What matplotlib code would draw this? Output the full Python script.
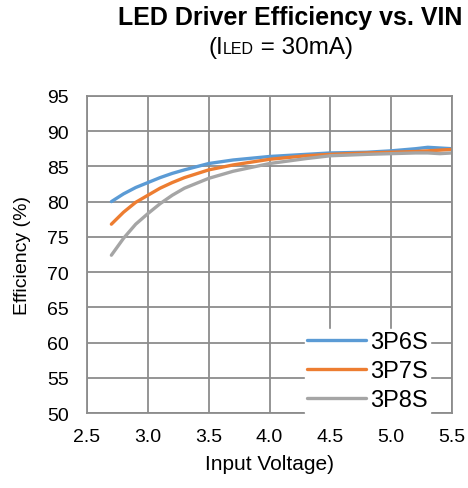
import matplotlib
matplotlib.use("Agg")
import matplotlib.pyplot as plt

plt.rcParams["font.family"] = ["Liberation Sans", "DejaVu Sans"]

vin = [2.7, 2.8, 2.9, 3.0, 3.1, 3.2, 3.3, 3.5, 3.7, 4.0, 4.3, 4.5, 4.8, 5.0, 5.2, 5.3, 5.4, 5.5]
eff_3p6s = [80.0, 81.1, 82.0, 82.7, 83.4, 84.0, 84.5, 85.4, 85.9, 86.4, 86.7, 86.9, 87.0, 87.2, 87.5, 87.7, 87.6, 87.5]
eff_3p7s = [76.8, 78.5, 79.9, 80.9, 81.9, 82.7, 83.4, 84.5, 85.2, 86.0, 86.5, 86.7, 86.9, 87.0, 87.1, 87.2, 87.3, 87.4]
eff_3p8s = [72.4, 74.8, 76.8, 78.3, 79.7, 80.9, 81.9, 83.3, 84.3, 85.4, 86.1, 86.5, 86.7, 86.8, 86.9, 86.9, 86.8, 86.9]
series = ["3P6S", "3P7S", "3P8S"]
colors = ["#5B9BD5", "#ED7D31", "#A5A5A5"]

fig = plt.figure(figsize=(4.68, 4.89), dpi=100)
ax = fig.add_axes([0.186, 0.153, 0.780, 0.649])

for name, vals, c in zip(series, [eff_3p6s, eff_3p7s, eff_3p8s], colors):
    ax.plot(vin, vals, color=c, lw=2.4, label=name, solid_capstyle="round")

ax.set_xlim(2.5, 5.5)
ax.set_ylim(50, 95)
ax.set_xticks([2.5, 3.0, 3.5, 4.0, 4.5, 5.0, 5.5])
ax.set_xticklabels(["2.5", "3.0", "3.5", "4.0", "4.5", "5.0", "5.5"])
ax.set_yticks(range(50, 96, 5))
ax.tick_params(length=0, labelsize=14)
ax.tick_params(axis="y", pad=13)
ax.tick_params(axis="x", pad=11)
ax.grid(True, color="#8C8C8C", lw=1.3)
ax.set_axisbelow(True)
for s in ax.spines.values():
    s.set_color("#8C8C8C")
    s.set_linewidth(1.3)

ax.set_xlabel("Input Voltage)", fontsize=15, labelpad=6)
ax.set_ylabel("Efficiency (%)", fontsize=14, labelpad=12)

leg = ax.legend(loc="lower right", bbox_to_anchor=(0.94, 0.0), fontsize=17,
                frameon=True, fancybox=False, handlelength=2.5, handletextpad=0.2,
                labelspacing=0.3, borderaxespad=0, borderpad=0.08)
leg.get_frame().set_edgecolor("white")
leg.get_frame().set_facecolor("white")
leg.get_frame().set_alpha(1)

fig.text(0.62, 0.964, "LED Driver Efficiency vs. VIN", ha="center", va="center",
         fontsize=18, fontweight="bold")

# subtitle: "(I" + small "LED" + " = 30mA)"
parts = [("(I", 17.5), ("LED", 11.5), (" = 30mA)", 17.5)]
fig.canvas.draw()
r = fig.canvas.get_renderer()
texts = [fig.text(0, 0.89, s, fontsize=fs, ha="left", va="baseline") for s, fs in parts]
widths = [t.get_window_extent(r).width for t in texts]
x = 0.6 * fig.bbox.width - sum(widths) / 2
for t, w in zip(texts, widths):
    t.set_x(x / fig.bbox.width)
    x += w

fig.savefig("out.png", dpi=100)
